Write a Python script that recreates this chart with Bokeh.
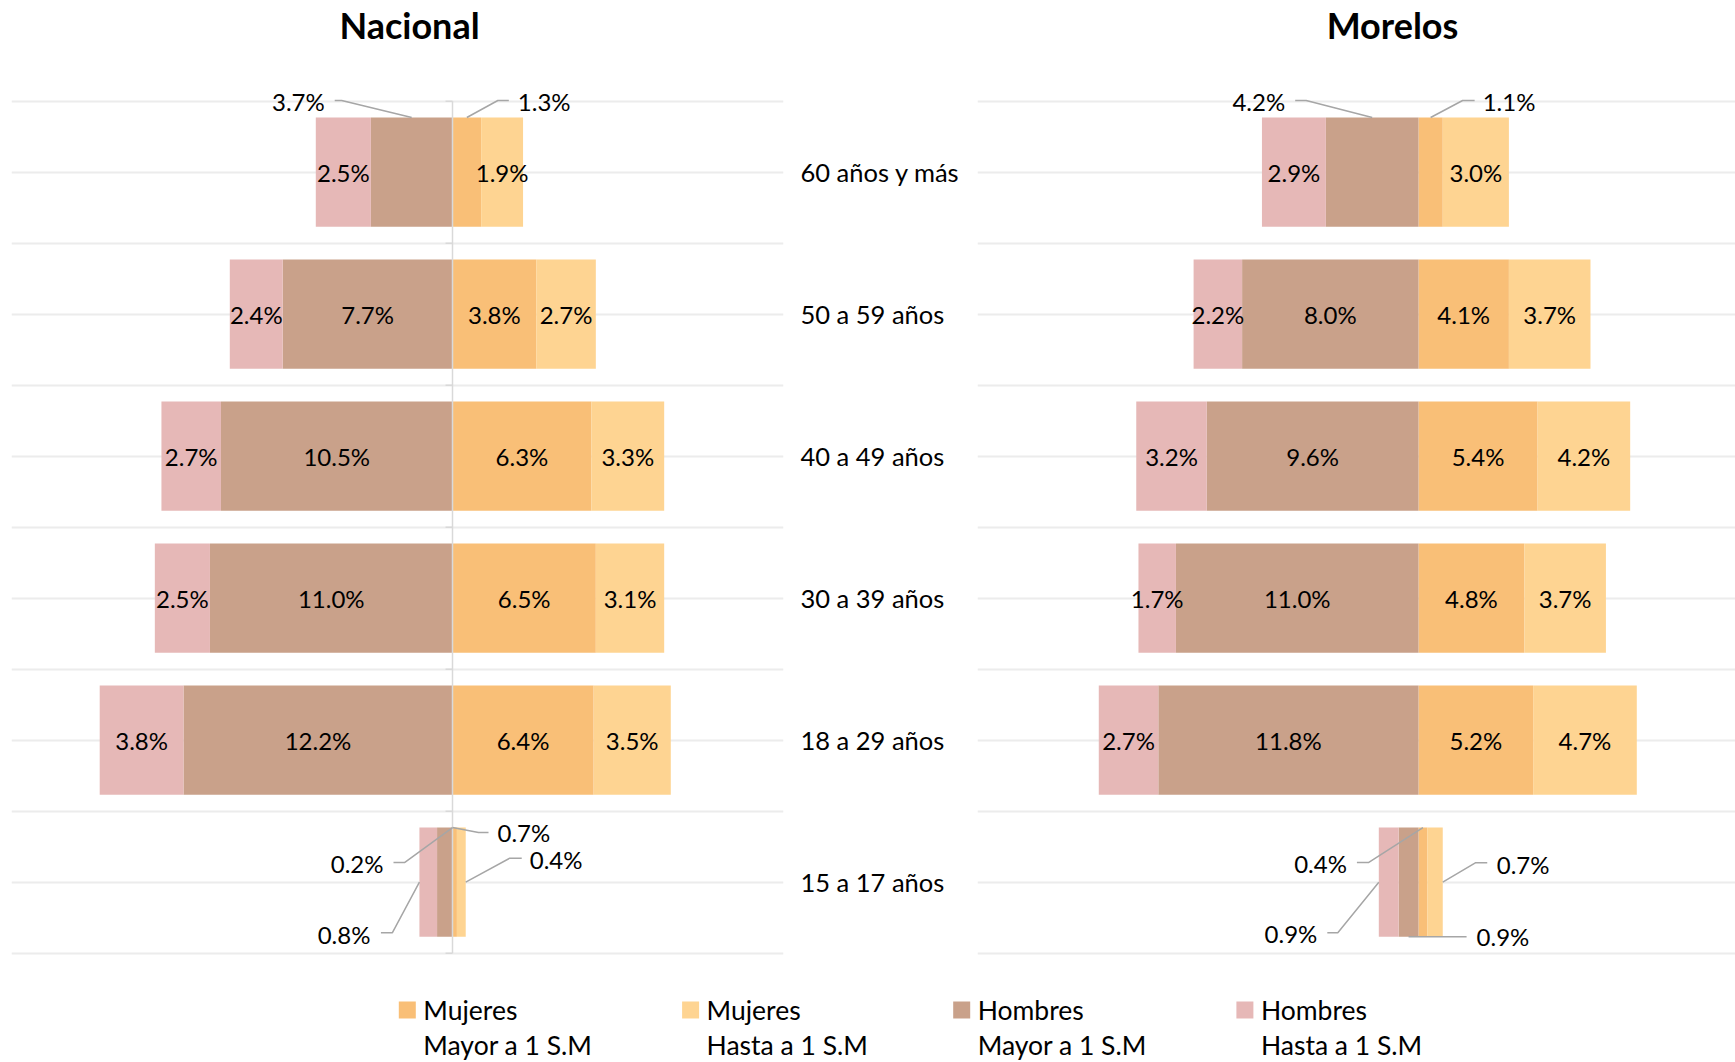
import numpy as np
from bokeh.plotting import figure
from bokeh.models import Range1d, FixedTicker
from bokeh.layouts import column, row
from bokeh.embed import file_html
from bokeh.resources import INLINE
from bokeh.core.properties import value

# ---------------- data ----------------
titles = ["Nacional", "Morelos"]
categories = ["60 años y más", "50 a 59 años", "40 a 49 años",
              "30 a 39 años", "18 a 29 años", "15 a 17 años"]
series_keys = ["muj_mayor", "muj_hasta", "hom_mayor", "hom_hasta"]
legend_line1 = ["Mujeres", "Mujeres", "Hombres", "Hombres"]
legend_line2 = ["Mayor a 1 S.M", "Hasta a 1 S.M", "Mayor a 1 S.M", "Hasta a 1 S.M"]

nac_muj_mayor = [1.3, 3.8, 6.3, 6.5, 6.4, 0.2]
nac_muj_hasta = [1.9, 2.7, 3.3, 3.1, 3.5, 0.4]
nac_hom_mayor = [3.7, 7.7, 10.5, 11.0, 12.2, 0.7]
nac_hom_hasta = [2.5, 2.4, 2.7, 2.5, 3.8, 0.8]

mor_muj_mayor = [1.1, 4.1, 5.4, 4.8, 5.2, 0.4]
mor_muj_hasta = [3.0, 3.7, 4.2, 3.7, 4.7, 0.7]
mor_hom_mayor = [4.2, 8.0, 9.6, 11.0, 11.8, 0.9]
mor_hom_hasta = [2.9, 2.2, 3.2, 1.7, 2.7, 0.9]

# ---------------- style / layout ----------------
COLORS = {"muj_mayor": "#F9BF77", "muj_hasta": "#FED492",
          "hom_mayor": "#C9A18A", "hom_hasta": "#E6B8B7"}
FONT = "Lato"
LABEL_SIZE = "24px"
AXIS_SIZE = "25.5px"
LEGEND_SIZE = "26.5px"
TITLE_SIZE = "36px"
PX_PER_PCT = 22.05
BAND_PX = 142.0
BAR_HEIGHT = 0.77
X0 = -20.0
PAGE_W = 1735
HEAD_H = 60            # header figure (titles) height
ROW_H = 903            # panels figure height
LEG_H = 99             # legend figure height
GRID_TOP = 100.7       # page y of the first category boundary
FRAME_BOTTOM = 955     # page y of the frame bottom
NAC_W = 977
LEADER_COLOR = "#A6A6A6"
GRID_COLOR = "#ECECEC"
AXIS_COLOR = "#D9D9D9"
TITLE_X = [409, 1392]
TITLE_Y = 24
LEGEND_X = [406.8, 690.1, 961.2, 1244.4]
LEG_Y1, LEG_Y2 = 46.5, 81.5

# callouts: (category index, series, anchor, elbow px, end px, text px, align)
NAC_CALLOUTS = [
    (0, "hom_mayor", "top", (-70, -17), (-77, -17), (-87, -16), "right"),
    (0, "muj_mayor", "top", (31, -17), (42, -17), (51, -16), "left"),
    (5, "muj_mayor", "topleft", (-48, 35), (-59, 35), (-69, 36), "right"),
    (5, "hom_mayor", "topright", (26, 5), (36, 5), (45, 5), "left"),
    (5, "muj_hasta", "right", (44, -24), (56, -24), (64, -22.5), "left"),
    (5, "hom_hasta", "left", (-27, 50.5), (-38.5, 50.5), (-49, 52), "right"),
]
MOR_CALLOUTS = [
    (0, "hom_mayor", "top", (-66, -17), (-77, -17), (-87, -16), "right"),
    (0, "muj_mayor", "top", (32, -17), (44, -17), (52, -16), "left"),
    (5, "muj_mayor", "top", (-54.5, 35), (-66, 35), (-76, 36), "right"),
    (5, "muj_hasta", "right", (33, -19.5), (44.5, -19.5), (54, -18), "left"),
    (5, "hom_hasta", "left", (-41, 50.5), (-51.5, 50.5), (-61.5, 51), "right"),
    (5, "hom_mayor", "bottom", (58, 0), (58, 0), (68, 0), "left"),
]


def segments(mm, mh, hm, hh):
    mm, mh, hm, hh = map(np.asarray, (mm, mh, hm, hh))
    z = np.zeros(len(mm))
    return {
        "muj_mayor": (z, mm, mm),
        "muj_hasta": (mm, mm + mh, mh),
        "hom_mayor": (-hm, z, hm),
        "hom_hasta": (-(hm + hh), -hm, hh),
    }


def anchor_point(left, right, yc, kind):
    half = BAR_HEIGHT / 2
    return {
        "top": ((left + right) / 2, yc - half),
        "topleft": (left, yc - half),
        "topright": (right, yc - half),
        "bottom": ((left + right) / 2, yc + half),
        "left": (left, yc),
        "right": (right, yc),
    }[kind]


def pixel_figure(w, h):
    f = figure(width=w, height=h, x_range=Range1d(0, w), y_range=Range1d(h, 0),
               output_backend="svg", toolbar_location=None, min_border=0,
               x_axis_location=None, y_axis_location=None,
               outline_line_color=None)
    f.grid.visible = False
    return f


def make_panel(segs, callouts, fig_w, border_l, border_r, axis):
    frame_w = fig_w - border_l - border_r
    n = len(categories)
    frame_h = FRAME_BOTTOM - HEAD_H
    y_top = -0.5 - (GRID_TOP - HEAD_H) / BAND_PX
    y_bottom = y_top + frame_h / BAND_PX
    p = figure(width=fig_w, height=ROW_H,
               x_range=Range1d(X0, X0 + frame_w / PX_PER_PCT),
               y_range=Range1d(y_bottom, y_top),
               output_backend="svg", toolbar_location=None,
               min_border_left=border_l, min_border_right=border_r,
               min_border_top=0,
               min_border_bottom=ROW_H - frame_h,
               x_axis_location=None,
               y_axis_location="right" if axis else None,
               outline_line_color=None, background_fill_color="white")

    p.xgrid.visible = False
    p.ygrid.ticker = FixedTicker(ticks=list(range(n)),
                                 minor_ticks=[i - 0.5 for i in range(n + 1)])
    p.ygrid.grid_line_color = GRID_COLOR
    p.ygrid.grid_line_width = 1.8
    p.ygrid.minor_grid_line_color = GRID_COLOR
    p.ygrid.minor_grid_line_width = 1.8

    if axis:
        ax = p.yaxis[0]
        ax.ticker = FixedTicker(ticks=list(range(n)))
        ax.major_label_overrides = {i: c for i, c in enumerate(categories)}
        ax.axis_line_color = None
        ax.major_tick_line_color = None
        ax.minor_tick_line_color = None
        ax.major_tick_out = 0
        ax.major_label_standoff = 17
        ax.major_label_text_font = FONT
        ax.major_label_text_font_size = AXIS_SIZE
        ax.major_label_text_color = "black"

    ys = np.arange(n)
    for key in series_keys:
        left, right, _ = segs[key]
        p.hbar(y=ys, left=left, right=right, height=BAR_HEIGHT,
               fill_color=COLORS[key], line_color=None)

    if axis:
        # value axis line at 0, spanning the category band area
        p.segment(x0=[0], y0=[-0.5], x1=[0], y1=[n - 0.5],
                  line_color=AXIS_COLOR, line_width=1.5)
        # small category tick marks on the axis
        p.segment(x0=[0] * (n + 1), y0=[i - 0.5 for i in range(n + 1)],
                  x1=[-7 / PX_PER_PCT] * (n + 1), y1=[i - 0.5 for i in range(n + 1)],
                  line_color=AXIS_COLOR, line_width=1.5)

    called = {(c[0], c[1]) for c in callouts}
    tx, ty, tt = [], [], []
    for key in series_keys:
        left, right, vals = segs[key]
        for i in range(n):
            if (i, key) in called:
                continue
            tx.append((left[i] + right[i]) / 2)
            ty.append(i)
            tt.append(f"{vals[i]:.1f}%")
    p.text(x=tx, y=ty, text=tt, text_font=value(FONT),
           text_font_size=value(LABEL_SIZE), text_align="center",
           text_baseline="middle", text_color="black")

    lxs, lys = [], []
    for align in ("left", "right"):
        cx, cy, ct = [], [], []
        for (i, key, kind, elbow, end, tpos, al) in callouts:
            left, right, vals = segs[key]
            ax_, ay_ = anchor_point(left[i], right[i], i, kind)
            if align == "left":
                lxs.append([ax_, ax_ + elbow[0] / PX_PER_PCT, ax_ + end[0] / PX_PER_PCT])
                lys.append([ay_, ay_ + elbow[1] / BAND_PX, ay_ + end[1] / BAND_PX])
            if al != align:
                continue
            cx.append(ax_ + tpos[0] / PX_PER_PCT)
            cy.append(ay_ + tpos[1] / BAND_PX)
            ct.append(f"{vals[i]:.1f}%")
        p.text(x=cx, y=cy, text=ct, text_font=value(FONT),
               text_font_size=value(LABEL_SIZE), text_align=align,
               text_baseline="middle", text_color="black")
    p.multi_line(xs=lxs, ys=lys, line_color=LEADER_COLOR, line_width=1.5)
    return p


# ---------------- header (panel titles) ----------------
head = pixel_figure(PAGE_W, HEAD_H)
head.text(x=TITLE_X, y=[TITLE_Y] * len(titles), text=titles,
          text_font=value(FONT), text_font_size=value(TITLE_SIZE),
          text_font_style="bold", text_align="center",
          text_baseline="middle", text_color="black")

nac = make_panel(segments(nac_muj_mayor, nac_muj_hasta, nac_hom_mayor, nac_hom_hasta),
                 NAC_CALLOUTS, fig_w=NAC_W, border_l=11, border_r=194, axis=True)
mor = make_panel(segments(mor_muj_mayor, mor_muj_hasta, mor_hom_mayor, mor_hom_hasta),
                 MOR_CALLOUTS, fig_w=PAGE_W - NAC_W, border_l=0, border_r=0, axis=False)

# ---------------- legend ----------------
lg = pixel_figure(PAGE_W, LEG_H)
lg.rect(x=LEGEND_X, y=[LEG_Y1] * 4, width=17, height=17,
        fill_color=[COLORS[k] for k in series_keys], line_color=None)
lg.text(x=[x + 16 for x in LEGEND_X], y=[LEG_Y1] * 4, text=legend_line1,
        text_font=value(FONT), text_font_size=value(LEGEND_SIZE),
        text_baseline="middle", text_color="black")
lg.text(x=[x + 16 for x in LEGEND_X], y=[LEG_Y2] * 4, text=legend_line2,
        text_font=value(FONT), text_font_size=value(LEGEND_SIZE),
        text_baseline="middle", text_color="black")

layout = column(head, row(nac, mor, spacing=0), lg, spacing=0)
open("out.html", "w").write(file_html(layout, INLINE))
